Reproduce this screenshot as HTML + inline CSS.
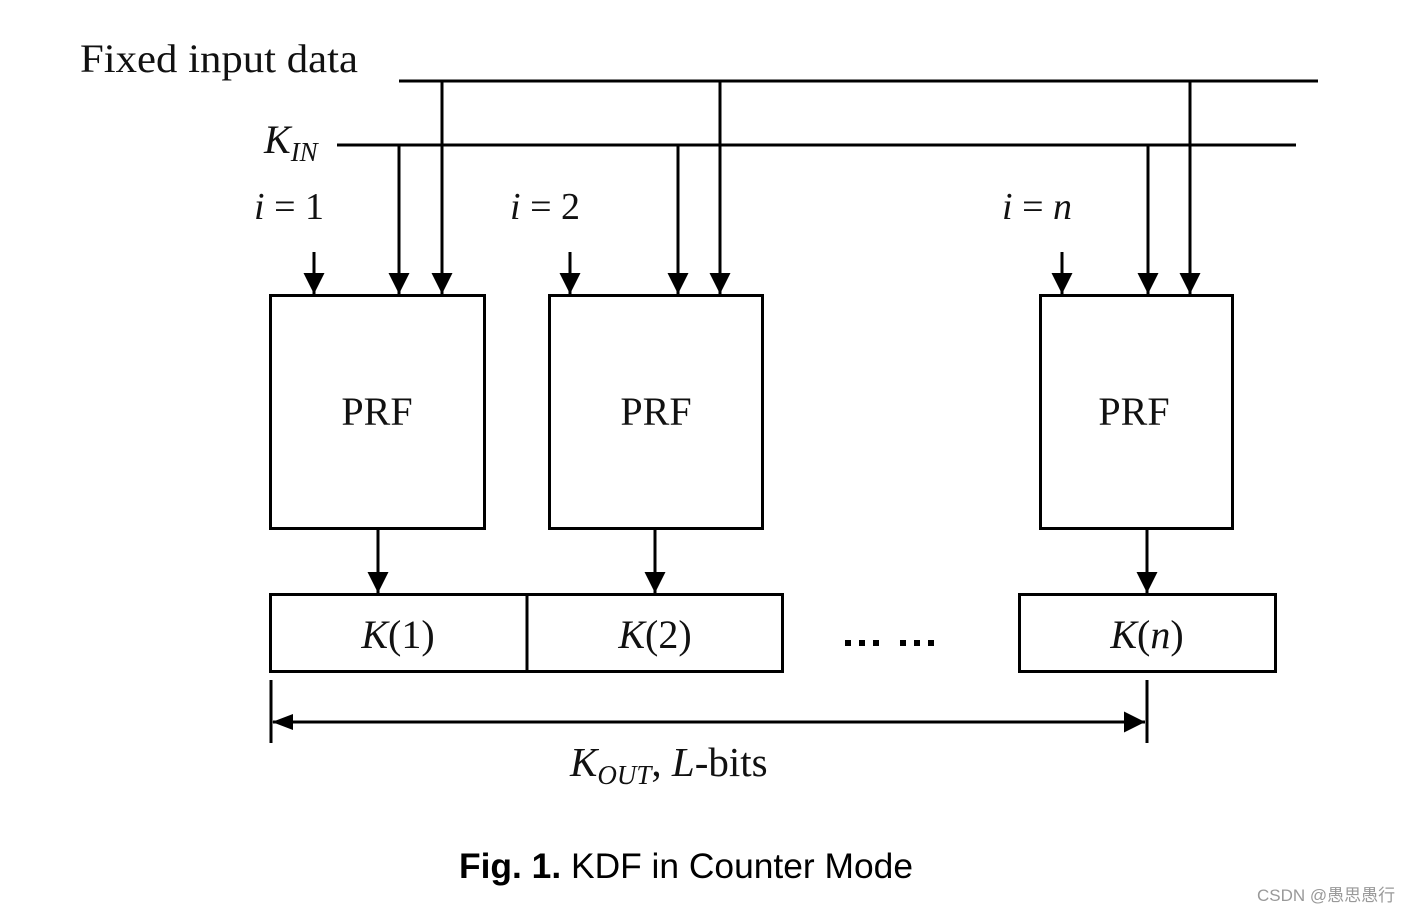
<!DOCTYPE html>
<html><head><meta charset="utf-8"><style>
html,body{margin:0;padding:0;background:#fff;}
svg{display:block;}
.s{font-family:"Liberation Serif",serif;fill:#111;}
</style></head><body>
<svg width="1407" height="913" viewBox="0 0 1407 913" xmlns="http://www.w3.org/2000/svg">
<defs>
<marker id="a" viewBox="0 0 10 10" refX="10" refY="5" markerWidth="7" markerHeight="7" markerUnits="strokeWidth" orient="auto"><path d="M0,0 L10,5 L0,10 z" fill="#000"/></marker>
</defs>
<g stroke="#000" stroke-width="3" fill="none">
<line x1="399" y1="81" x2="1318" y2="81"/>
<line x1="337" y1="145" x2="1296" y2="145"/>
<line x1="442" y1="81" x2="442" y2="294" marker-end="url(#a)"/>
<line x1="720" y1="81" x2="720" y2="294" marker-end="url(#a)"/>
<line x1="1190" y1="81" x2="1190" y2="294" marker-end="url(#a)"/>
<line x1="399" y1="145" x2="399" y2="294" marker-end="url(#a)"/>
<line x1="678" y1="145" x2="678" y2="294" marker-end="url(#a)"/>
<line x1="1148" y1="145" x2="1148" y2="294" marker-end="url(#a)"/>
<line x1="314" y1="252" x2="314" y2="294" marker-end="url(#a)"/>
<line x1="570" y1="252" x2="570" y2="294" marker-end="url(#a)"/>
<line x1="1062" y1="252" x2="1062" y2="294" marker-end="url(#a)"/>
<rect x="270.5" y="295.5" width="214" height="233"/>
<rect x="549.5" y="295.5" width="213" height="233"/>
<rect x="1040.5" y="295.5" width="192" height="233"/>
<line x1="378" y1="529" x2="378" y2="593" marker-end="url(#a)"/>
<line x1="655" y1="529" x2="655" y2="593" marker-end="url(#a)"/>
<line x1="1147" y1="529" x2="1147" y2="593" marker-end="url(#a)"/>
<rect x="270.5" y="594.5" width="512" height="77"/>
<line x1="527" y1="594" x2="527" y2="672"/>
<rect x="1019.5" y="594.5" width="256" height="77"/>
<line x1="271" y1="680" x2="271" y2="743"/>
<line x1="1147" y1="680" x2="1147" y2="743"/>
<line x1="273" y1="722" x2="1145" y2="722" marker-end="url(#a)"/>
</g>
<path d="M272,722 L293,714 L293,730 z" fill="#000"/>
<text class="s" x="80" y="72" font-size="40" textLength="278" lengthAdjust="spacingAndGlyphs">Fixed input data</text>
<text class="s" x="264" y="153" font-size="40" font-style="italic">K<tspan font-size="27" dy="8">IN</tspan></text>
<text class="s" x="254" y="219" font-size="38"><tspan font-style="italic">i</tspan> = 1</text>
<text class="s" x="510" y="219" font-size="38"><tspan font-style="italic">i</tspan> = 2</text>
<text class="s" x="1002" y="219" font-size="38"><tspan font-style="italic">i</tspan> = <tspan font-style="italic">n</tspan></text>
<text class="s" x="377" y="425" font-size="40" text-anchor="middle">PRF</text>
<text class="s" x="656" y="425" font-size="40" text-anchor="middle">PRF</text>
<text class="s" x="1134" y="425" font-size="40" text-anchor="middle">PRF</text>
<text class="s" x="398" y="648" font-size="40" text-anchor="middle"><tspan font-style="italic">K</tspan>(1)</text>
<text class="s" x="655" y="648" font-size="40" text-anchor="middle"><tspan font-style="italic">K</tspan>(2)</text>
<text class="s" x="1147" y="648" font-size="40" text-anchor="middle"><tspan font-style="italic">K</tspan>(<tspan font-style="italic">n</tspan>)</text>
<g fill="#000">
<rect x="845" y="640" width="6" height="6"/><rect x="859" y="640" width="6" height="6"/><rect x="873" y="640" width="6" height="6"/>
<rect x="900" y="640" width="6" height="6"/><rect x="914" y="640" width="6" height="6"/><rect x="928" y="640" width="6" height="6"/>
</g>
<text class="s" x="570" y="776" font-size="41"><tspan font-style="italic">K</tspan><tspan font-style="italic" font-size="27" dy="8">OUT</tspan><tspan dy="-8">, </tspan><tspan font-style="italic">L</tspan>-bits</text>
<text x="459" y="878" font-family="Liberation Sans, sans-serif" font-size="35" fill="#000" textLength="454" lengthAdjust="spacingAndGlyphs"><tspan font-weight="bold">Fig. 1.</tspan> KDF in Counter Mode</text>
<text x="1257" y="901" font-family="Liberation Sans, Noto Sans CJK SC, sans-serif" font-size="17" fill="#999">CSDN @愚思愚行</text>
</svg>
</body></html>
